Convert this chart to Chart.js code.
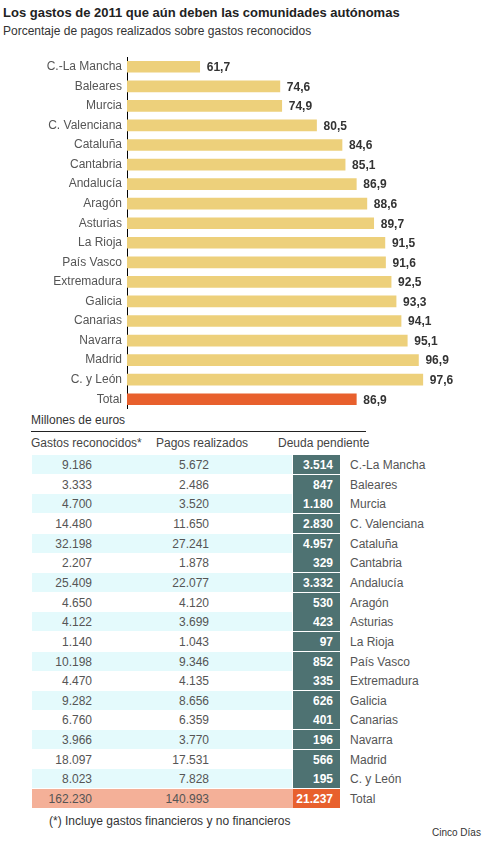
<!DOCTYPE html>
<html><head><meta charset="utf-8">
<script src="https://cdn.jsdelivr.net/npm/chart.js@4/dist/chart.umd.min.js"></script>
<style>
body{margin:0;background:#fff;font-family:"Liberation Sans",Arial,sans-serif;width:486px;height:845px;position:relative;overflow:hidden}
.t{position:absolute;white-space:nowrap}
#wrap{position:absolute;left:0;top:57px;width:486px;height:352px}
#wrap canvas{display:block}
.cell{position:absolute;font-size:12px;color:#555;line-height:21px;height:19px}
.bg{position:absolute;height:19px}
</style></head><body>
<div class="t" style="left:3px;top:5px;font-size:13px;font-weight:bold;color:#222">Los gastos de 2011 que aún deben las comunidades autónomas</div>
<div class="t" style="left:3px;top:24px;font-size:12px;color:#333">Porcentaje de pagos realizados sobre gastos reconocidos</div>
<div id="wrap"><canvas id="c" width="486" height="352"></canvas></div>
<div class="t" style="left:31px;top:413px;font-size:12px;color:#333">Millones de euros</div>
<div style="position:absolute;left:31px;top:431px;width:335px;height:1px;background:#222"></div>
<div class="t" style="left:31px;top:436px;font-size:12px;color:#444">Gastos reconocidos*</div>
<div class="t" style="left:156px;top:436px;font-size:12px;color:#444">Pagos realizados</div>
<div class="t" style="left:278px;top:436px;font-size:12px;color:#444">Deuda pendiente</div>
<div id="table"></div>
<div class="t" style="left:49px;top:814px;font-size:12px;color:#333">(*) Incluye gastos financieros y no financieros</div>
<div class="t" style="left:432px;top:827px;font-size:10px;color:#333">Cinco Días</div>
<script>
const categories = ["C.-La Mancha","Baleares","Murcia","C. Valenciana","Cataluña","Cantabria","Andalucía","Aragón","Asturias","La Rioja","País Vasco","Extremadura","Galicia","Canarias","Navarra","Madrid","C. y León","Total"];
const percentPaid = [61.7,74.6,74.9,80.5,84.6,85.1,86.9,88.6,89.7,91.5,91.6,92.5,93.3,94.1,95.1,96.9,97.6,86.9];
const gastosReconocidos = ["9.186","3.333","4.700","14.480","32.198","2.207","25.409","4.650","4.122","1.140","10.198","4.470","9.282","6.760","3.966","18.097","8.023","162.230"];
const pagosRealizados = ["5.672","2.486","3.520","11.650","27.241","1.878","22.077","4.120","3.699","1.043","9.346","4.135","8.656","6.359","3.770","17.531","7.828","140.993"];
const deudaPendiente = ["3.514","847","1.180","2.830","4.957","329","3.332","530","423","97","852","335","626","401","196","566","195","21.237"];

const barColors = categories.map(c => c === "Total" ? "#E8602D" : "#EDD07B");

const labelPlugin = {
  id: 'valLabels',
  afterDatasetsDraw(chart) {
    const ctx = chart.ctx;
    const meta = chart.getDatasetMeta(0);
    ctx.save();
    ctx.font = 'bold 12px "Liberation Sans", Arial, sans-serif';
    ctx.fillStyle = '#333';
    ctx.textBaseline = 'middle';
    ctx.textAlign = 'left';
    meta.data.forEach((bar, i) => {
      ctx.fillText(percentPaid[i].toFixed(1).replace('.', ','), bar.x + 7, bar.y + 1);
    });
    ctx.restore();
  }
};

new Chart(document.getElementById('c'), {
  type: 'bar',
  data: { labels: categories, datasets: [{ data: percentPaid, backgroundColor: barColors, barThickness: 11, borderWidth: 0 }] },
  options: {
    indexAxis: 'y', responsive: false, animation: false,
    layout: { padding: { top: 0, bottom: 0, right: 11, left: 0 } },
    plugins: { legend: { display: false }, tooltip: { enabled: false } },
    scales: {
      x: { display: false, min: 50, max: 106 },
      y: {
        grid: { display: false, drawTicks: false },
        border: { display: true, color: '#000', width: 1 },
        ticks: { color: '#555', font: { size: 12, family: '"Liberation Sans", Arial, sans-serif' }, padding: 5, autoSkip: false },
        afterFit(s) { s.width = 127; s.paddingTop = 0; s.paddingBottom = 0; }
      }
    }
  },
  plugins: [labelPlugin]
});

// table
const tb = document.getElementById('table');
const rowTop = 455, rowH = 19.65;
categories.forEach((name, i) => {
  const top = rowTop + i * rowH;
  const isTotal = name === "Total";
  const add = (cls, style, text) => {
    const d = document.createElement('div');
    d.className = cls;
    d.style.cssText = style;
    d.style.top = top + 'px';
    if (text !== undefined) d.textContent = text;
    tb.appendChild(d);
    return d;
  };
  if (isTotal) add('bg', 'left:32px;width:264px;background:#F4B098;');
  else if (i % 2 === 0) add('bg', 'left:32px;width:260px;background:#E4FAFC;');
  add('bg', 'left:293px;width:47px;background:' + (isTotal ? '#E8602D' : '#4E7272') + ';');
  add('cell', 'left:0;width:92px;text-align:right;', gastosReconocidos[i]);
  add('cell', 'left:100px;width:109px;text-align:right;', pagosRealizados[i]);
  add('cell', 'left:293px;width:40px;text-align:right;color:#fff;font-weight:bold;', deudaPendiente[i]);
  add('cell', 'left:350px;width:130px;', name);
});
</script>
</body></html>
